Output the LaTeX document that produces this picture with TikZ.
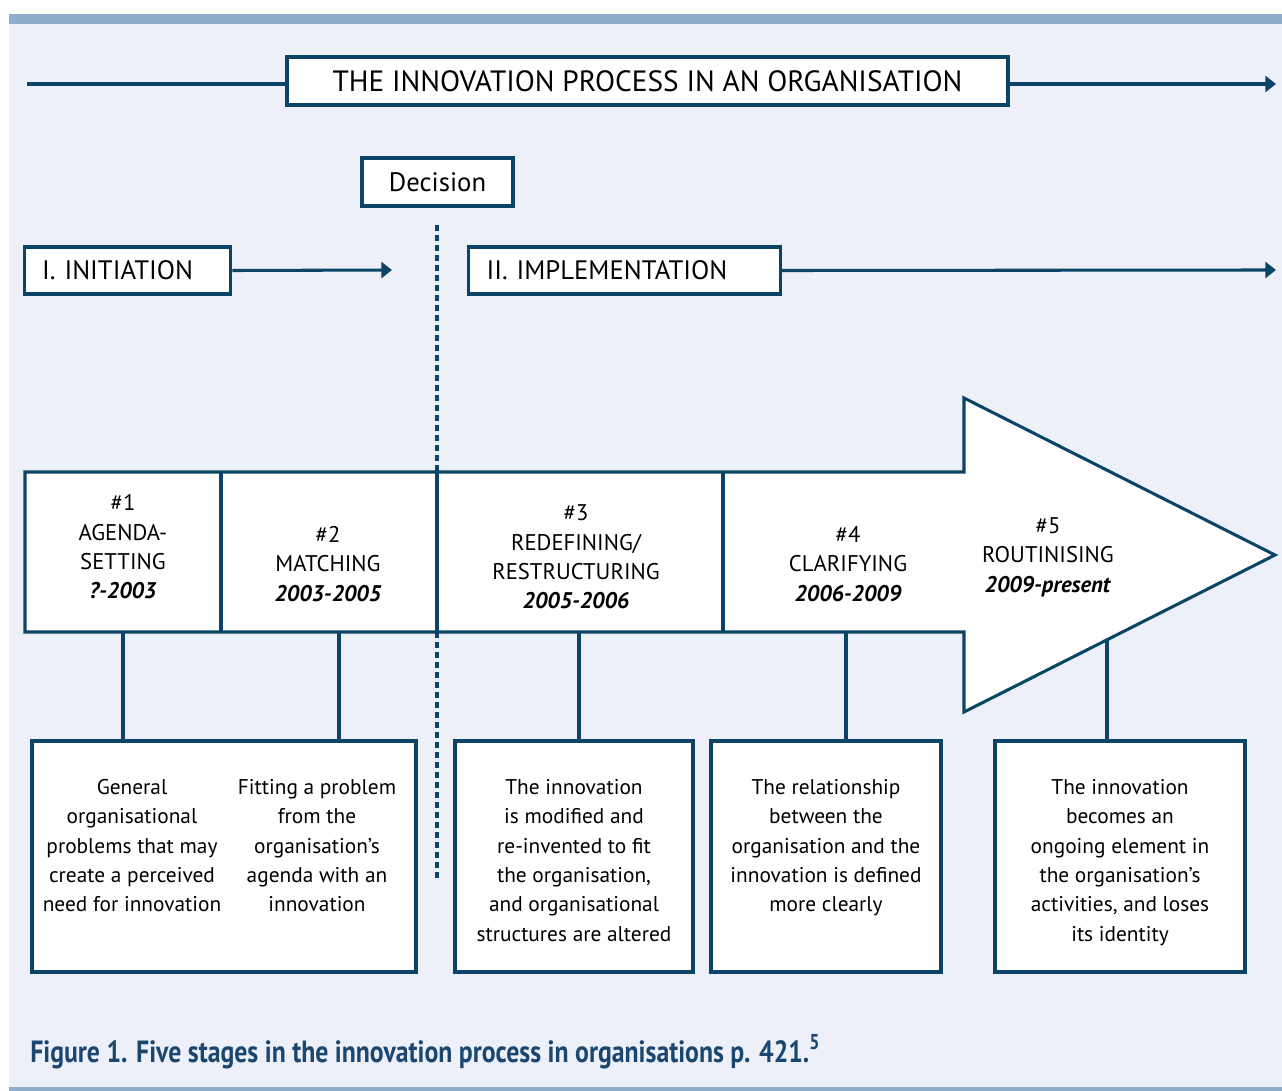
\documentclass[tikz,border=0pt]{standalone}
\usepackage{fontspec}
\setmainfont{PT Sans}
\newfontfamily\capfont[FakeStretch=0.84]{PT Sans}
\usetikzlibrary{arrows.meta}
\definecolor{navy}{HTML}{0B4466}
\definecolor{panel}{HTML}{EDF0F8}
\definecolor{bar}{HTML}{8FACCD}
\definecolor{capblue}{HTML}{1A4670}
\newcommand{\yr}[1]{\textbf{\textit{#1}}}
\begin{document}
\begin{tikzpicture}[x=0.75pt,y=-0.75pt,
  line/.style={draw=navy,line width=2.3pt},
  arr/.style={line,-{Triangle[length=8pt,width=12pt]}},
  dashline/.style={draw=navy,line width=2.3pt,dash pattern=on 4.5pt off 3pt},
  hbox/.style={draw=navy,line width=2.3pt,fill=white,inner sep=0pt},
  secbox/.style={hbox,align=left,font=\fontsize{20pt}{24pt}\selectfont},
  stage/.style={align=center,inner sep=0pt,font=\fontsize{17pt}{22pt}\selectfont},
  descbox/.style={draw=navy,line width=2.3pt,fill=white,inner sep=0pt,minimum height=173.25pt},
  desc/.style={align=center,inner sep=0pt,anchor=north,font=\fontsize{16pt}{22pt}\selectfont}
]
\useasboundingbox (0,0) rectangle (1282,1091);
% panel and rules
\fill[white] (0,0) rectangle (1282,1091);
\fill[panel] (9,14) rectangle (1282,1091);
\fill[bar] (9,14) rectangle (1282,24);
\fill[bar] (9,1087) rectangle (1282,1091);

% overall process
\node[hbox,minimum width=540.75pt,minimum height=36pt,font=\fontsize{22pt}{26pt}\selectfont] (title) at (647.5,81)
  {THE INNOVATION PROCESS IN AN ORGANISATION};
\coordinate (tl) at (27,84);
\coordinate (tr) at (1276,84);
\draw[line] (tl) -- (tl -| title.west);
\draw[arr] (tr -| title.east) -- (tr);

% decision point
\node[hbox,minimum width=113.25pt,minimum height=36pt,font=\fontsize{20pt}{24pt}\selectfont] (decision) at (437.5,182) {Decision};

% phases
\node[secbox,text width=128pt,inner xsep=13.5pt,minimum height=35.25pt] (init) at (127.5,270.5) {I. INITIATION};
\node[secbox,text width=207pt,inner xsep=13.5pt,minimum height=35.25pt] (impl) at (624.5,270.5) {II. IMPLEMENTATION};
\coordinate (initend) at (392,270);
\coordinate (implend) at (1276,270);
\draw[arr] (init.east) -- (initend);
\draw[arr] (impl.east) -- (implend);

% decision divider
\draw[dashline] (437,225) -- (437,472);
\draw[dashline] (437,632) -- (437,878);

% the stage arrow
\draw[line,fill=white,line join=miter]
  (25,472) -- (964,472) -- (964,398) -- (1275,555) -- (964,712) -- (964,632) -- (25,632) -- cycle;
\draw[line] (221,472) -- (221,632);
\draw[line] (437,472) -- (437,632);
\draw[line] (723,472) -- (723,632);

% stage labels
\node[stage] (s1) at (123,547) {\#1\\AGENDA-\\SETTING\\\yr{?-2003}};
\node[stage] (s2) at (328,564) {\#2\\MATCHING\\\yr{2003-2005}};
\node[stage] (s3) at (576,557) {\#3\\REDEFINING/\\RESTRUCTURING\\\yr{2005-2006}};
\node[stage] (s4) at (848,564) {\#4\\CLARIFYING\\\yr{2006-2009}};
\node[stage] (s5) at (1048,557) {\#5\\ROUTINISING\\\yr{2009-present}};

% description boxes
\node[descbox,minimum width=288pt] (d12) at (224,856.5) {};
\node[descbox,minimum width=178.5pt] (d3) at (574,856.5) {};
\node[descbox,minimum width=172.5pt] (d4) at (826,856.5) {};
\node[descbox,minimum width=187.5pt] (d5) at (1120,856.5) {};

\node[desc] (t1) at (132,779) {General\\organisational\\problems that may\\create a perceived\\need for innovation};
\node[desc] (t2) at (317,779) {Fitting a problem\\from the\\organisation’s\\agenda with an\\innovation};
\node[desc] (t3) at (574,779) {The innovation\\is modified and\\re-invented to fit\\the organisation,\\and organisational\\structures are altered};
\node[desc] (t4) at (826,779) {The relationship\\between the\\organisation and the\\innovation is defined\\more clearly};
\node[desc] (t5) at (1120,779) {The innovation\\becomes an\\ongoing element in\\the organisation’s\\activities, and loses\\its identity};

% stage to description connectors
\coordinate (c1) at (123,632);
\coordinate (c2) at (339,632);
\coordinate (c3) at (579,632);
\coordinate (c4) at (846,632);
\coordinate (c5) at (1107,640);
\draw[line] (c1) -- (c1 |- d12.north);
\draw[line] (c2) -- (c2 |- d12.north);
\draw[line] (c3) -- (c3 |- d3.north);
\draw[line] (c4) -- (c4 |- d4.north);
\draw[line] (c5) -- (c5 |- d5.north);

% caption
\node[anchor=base west,inner sep=0pt,text=capblue,font=\capfont\bfseries\fontsize{23pt}{26pt}\selectfont] (caption) at (30,1062)
  {Figure 1. Five stages in the innovation process in organisations p. 421.\textsuperscript{5}};
\end{tikzpicture}
\end{document}
